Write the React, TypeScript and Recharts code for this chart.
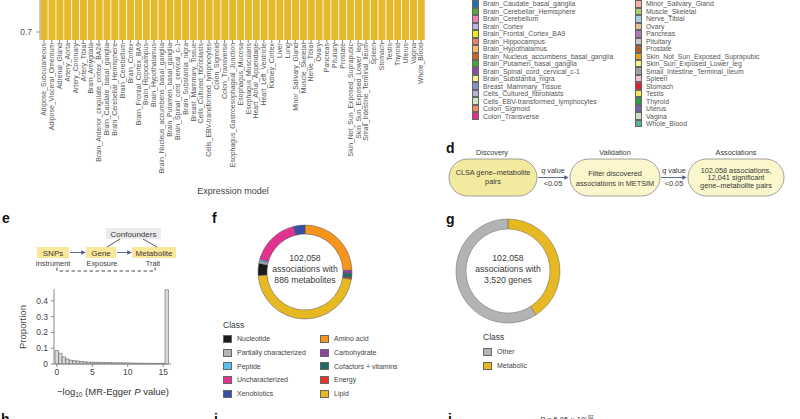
import React from "react";
import { BarChart, Bar, XAxis, YAxis, PieChart, Pie, Cell } from "recharts";

const FONT = "'Liberation Sans', Arial, sans-serif";
const INK = "#3a3a3a";

// panel c: model performance per GTEx tissue (bars run off the top of the crop)
const TISSUES = [
  "Adipose_Subcutaneous", "Adipose_Visceral_Omentum", "Adrenal_Gland", "Artery_Aorta", "Artery_Coronary",
  "Artery_Tibial", "Brain_Amygdala", "Brain_Anterior_cingulate_cortex_BA24", "Brain_Caudate_basal_ganglia",
  "Brain_Cerebellar_Hemisphere", "Brain_Cerebellum", "Brain_Cortex", "Brain_Frontal_Cortex_BA9",
  "Brain_Hippocampus", "Brain_Hypothalamus", "Brain_Nucleus_accumbens_basal_ganglia", "Brain_Putamen_basal_ganglia",
  "Brain_Spinal_cord_cervical_c-1", "Brain_Substantia_nigra", "Breast_Mammary_Tissue", "Cells_Cultured_fibroblasts",
  "Cells_EBV-transformed_lymphocytes", "Colon_Sigmoid", "Colon_Transverse", "Esophagus_Gastroesophageal_Junction",
  "Esophagus_Mucosa", "Esophagus_Muscularis", "Heart_Atrial_Appendage", "Heart_Left_Ventricle", "Kidney_Cortex",
  "Liver", "Lung", "Minor_Salivary_Gland", "Muscle_Skeletal", "Nerve_Tibial", "Ovary", "Pancreas", "Pituitary",
  "Prostate", "Skin_Not_Sun_Exposed_Suprapubic", "Skin_Sun_Exposed_Lower_leg", "Small_Intestine_Terminal_Ileum",
  "Spleen", "Stomach", "Testis", "Thyroid", "Uterus", "Vagina", "Whole_Blood",
];
const TISSUE_SCORE = [
  0.86, 0.85, 0.84, 0.85, 0.83, 0.86, 0.80, 0.81, 0.82, 0.84, 0.85, 0.82, 0.82, 0.80, 0.80, 0.82, 0.81,
  0.80, 0.79, 0.84, 0.87, 0.83, 0.84, 0.85, 0.83, 0.85, 0.85, 0.84, 0.83, 0.79, 0.83, 0.86, 0.82, 0.86,
  0.87, 0.82, 0.83, 0.82, 0.82, 0.85, 0.87, 0.81, 0.83, 0.84, 0.86, 0.87, 0.82, 0.81, 0.86,
];
const TISSUE_COLORS = [
  "#f58a3a", "#f9b56b", "#6fcf5a", "#f25a5a", "#f7a898", "#e32222", "#e9e79a", "#cfd59a",
  "#1f6fb5", "#5ba63a", "#ee82b4", "#bdb5db", "#f2e81f", "#f07f71", "#f8b86a", "#d95f1e",
  "#43a53b", "#8e4a9e", "#f9f190", "#8096c9", "#b9b0d8", "#cde7c2", "#f58d62", "#e42e8c",
  "#9c8660", "#a8865a", "#d0ac7e", "#9f4fd8", "#6b2a99", "#3fd6c2", "#b3bf6a", "#9fe04a",
  "#f7b0a5", "#a6d46a", "#a8cfe8", "#e6c291", "#b676b8", "#c8c8c8", "#b5592a", "#e8a21c",
  "#f8f08f", "#a0a0a0", "#f3bed5", "#e4212a", "#f7e653", "#2f9a45", "#6b68ae", "#c9e2c0", "#56b59b",
];
const LEGEND_SPLIT = 24;   // left legend column = first 24 tissues
const LEGEND_HIDDEN = 8;   // rows of each column that sit above the crop

// panel e: MR-Egger histogram
const HIST_BIN = [
  0, 0.5, 1, 1.5, 2, 2.5, 3, 3.5, 4, 4.5, 5, 5.5, 6, 6.5, 7, 7.5,
  8, 8.5, 9, 9.5, 10, 10.5, 11, 11.5, 12, 12.5, 13, 13.5, 14, 14.5, 15, 15.5,
];
const HIST_PROP = [
  0.086, 0.068, 0.045, 0.032, 0.024, 0.021, 0.019, 0.016, 0.014, 0.012, 0.011, 0.011, 0.010, 0.010, 0.009, 0.009,
  0.008, 0.008, 0.008, 0.007, 0.007, 0.006, 0.006, 0.005, 0.005, 0.005, 0.004, 0.004, 0.004, 0.004, 0.004, 0.47,
];

// panel f: metabolite classes (clockwise from 12 o'clock)
const MET_CLASS = [
  "Amino acid", "Carbohydrate", "Cofactors + vitamins", "Energy", "Lipid",
  "Nucleotide", "Partially characterized", "Peptide", "Uncharacterized", "Xenobiotics",
];
const MET_SHARE = [24.4, 1.0, 1.6, 0.5, 46.3, 4.2, 0.8, 0.6, 16.7, 3.9];
const MET_COLORS = [
  "#f7941d", "#8e44a0", "#206e63", "#e8322a", "#e6b822",
  "#1a1a1a", "#b3b3b3", "#5bc2eb", "#e0338f", "#3651a3",
];

// panel g: gene classes
const GENE_CLASS = ["Metabolic", "Other"];
const GENE_SHARE = [41, 59];
const GENE_COLORS = ["#e6b822", "#b3b3b3"];

const tissueData = TISSUES.map((t, i) => ({ tissue: t, score: TISSUE_SCORE[i] }));
const histData = HIST_BIN.map((b, i) => ({ bin: b, prop: HIST_PROP[i] }));
const metData = MET_CLASS.map((c, i) => ({ name: c, share: MET_SHARE[i] }));
const geneData = GENE_CLASS.map((c, i) => ({ name: c, share: GENE_SHARE[i] }));

function TissueTick({ x, y, payload }: any) {
  return (
    <text
      x={x} y={y} dy="0.35em" transform={`rotate(-90 ${x} ${y})`}
      textAnchor="end" fontSize={6.9} fill="#555" fontFamily={FONT}
    >
      {payload.value}
    </text>
  );
}

function Swatch({ color, size = 9 }: { color: string; size?: number }) {
  return (
    <span style={{
      display: "inline-block", width: size, height: size - 1, background: color,
      border: "0.6px solid #666", boxSizing: "border-box", marginRight: 5, flexShrink: 0,
    }} />
  );
}

const abs = (left: number, top: number, extra: React.CSSProperties = {}): React.CSSProperties => ({
  position: "absolute", left, top, ...extra,
});

const ROW = 7.47;

export default function App() {
  const cols = [
    { x: 472, start: LEGEND_HIDDEN, items: TISSUES.slice(LEGEND_HIDDEN, LEGEND_SPLIT) },
    { x: 635, start: LEGEND_SPLIT + LEGEND_HIDDEN, items: TISSUES.slice(LEGEND_SPLIT + LEGEND_HIDDEN) },
  ];

  return (
    <div style={{
      position: "fixed", left: 0, top: 0, width: 800, height: 419, overflow: "hidden",
      background: "#fff", fontFamily: FONT, color: INK,
    }}>
      {/* static diagrams: panel d flow and panel e causal sketch */}
      <svg width={800} height={419} style={abs(0, 0)} fontFamily={FONT}>
        <defs>
          <marker id="arr" viewBox="0 0 6 6" refX="5" refY="3" markerWidth="5" markerHeight="5" orient="auto">
            <path d="M0,0 L6,3 L0,6 z" fill="#4a5e80" />
          </marker>
        </defs>

        <g fontWeight="bold" fontSize={14} fill="#111">
          <text x={446} y={152.5}>d</text>
          <text x={2} y={223}>e</text>
          <text x={212} y={223}>f</text>
          <text x={446} y={224}>g</text>
          <text x={1} y={424}>h</text>
          <text x={214} y={424}>i</text>
          <text x={448} y={424}>j</text>
        </g>

        {/* d */}
        <g fontSize={7.3} fill={INK} textAnchor="middle">
          <text x={492} y={154.5}>Discovery</text>
          <text x={615} y={154.5}>Validation</text>
          <text x={736} y={154.5}>Associations</text>
        </g>
        <rect x={449} y={159} width={88} height={37} rx={18.5} fill="#f2eb9f" stroke="#8a8a8a" strokeWidth={0.8} />
        <rect x={570} y={159} width={90} height={37} rx={18.5} fill="#fbf6cb" stroke="#8a8a8a" strokeWidth={0.8} />
        <rect x={688} y={159} width={96} height={37} rx={18.5} fill="#fbf6cb" stroke="#8a8a8a" strokeWidth={0.8} />
        <g fontSize={7.3} fill={INK} textAnchor="middle">
          <text x={493} y={174.5}>CLSA gene–metabolite</text>
          <text x={493} y={183.5}>pairs</text>
          <text x={615} y={176}>Filter discovered</text>
          <text x={615} y={185.5}>associations in METSIM</text>
          <text x={736} y={172.5}>102,058 associations,</text>
          <text x={736} y={180}>12,041 significant</text>
          <text x={736} y={187.5}>gene–metabolite pairs</text>
          <text x={553} y={173}><tspan fontStyle="italic">q</tspan> value</text>
          <text x={553} y={186}>&lt;0.05</text>
          <text x={674} y={173}><tspan fontStyle="italic">q</tspan> value</text>
          <text x={674} y={186}>&lt;0.05</text>
        </g>
        <line x1={538} y1={177.5} x2={568} y2={177.5} stroke="#4a5e80" strokeWidth={0.9} markerEnd="url(#arr)" />
        <line x1={661} y1={177.5} x2={686} y2={177.5} stroke="#4a5e80" strokeWidth={0.9} markerEnd="url(#arr)" />

        {/* e */}
        <rect x={106} y={228} width={55} height={11} fill="#ebebeb" />
        <rect x={37} y={247} width={32} height={11} fill="#fbe79a" />
        <rect x={86} y={247} width={30} height={11} fill="#fbe79a" />
        <rect x={132} y={247} width={44} height={11} fill="#fbe79a" />
        <g fontSize={8} fill={INK} textAnchor="middle">
          <text x={133.5} y={236.5}>Confounders</text>
          <text x={53} y={255.5}>SNPs</text>
          <text x={101} y={255.5}>Gene</text>
          <text x={154} y={255.5}>Metabolite</text>
        </g>
        <g fontSize={7.3} fill={INK} textAnchor="middle">
          <text x={53} y={265.5}>Instrument</text>
          <text x={102} y={265.5}>Exposure</text>
          <text x={153} y={265.5}>Trait</text>
        </g>
        <line x1={70} y1={252.5} x2={85} y2={252.5} stroke="#4a5e80" strokeWidth={0.9} markerEnd="url(#arr)" />
        <line x1={117} y1={252.5} x2={131} y2={252.5} stroke="#4a5e80" strokeWidth={0.9} markerEnd="url(#arr)" />
        <line x1={120} y1={239} x2={107} y2={247} stroke="#333" strokeWidth={0.8} />
        <line x1={143} y1={239} x2={157} y2={247} stroke="#333" strokeWidth={0.8} />
        <path d="M57,267.5 V271 H155 V267.5" fill="none" stroke="#333" strokeWidth={0.9} strokeDasharray="3.5 2.5" />

        {/* cropped text along the bottom edge, as in the source figure */}
        <text x={540} y={421.5} fontSize={7.5} fill={INK}>
          <tspan fontStyle="italic">P</tspan> = 5.05 × 10<tspan dy={-3} fontSize={5}>−92</tspan>
        </text>
      </svg>

      {/* c: bar chart, top cropped */}
      <div style={abs(0, -60)}>
        <BarChart width={430} height={260} data={tissueData} margin={{ top: 4, right: 5, left: 0, bottom: 0 }} barCategoryGap="8%">
          <XAxis
            dataKey="tissue" interval={0} height={160} axisLine={false}
            tickLine={{ stroke: "#888" }} tickSize={3} tickMargin={0} tick={<TissueTick />}
          />
          <YAxis
            width={40} domain={[0.68, 0.92]} ticks={[0.7]} allowDataOverflow
            tickFormatter={(v: number) => v.toFixed(1)}
            axisLine={{ stroke: "#999" }} tickLine={{ stroke: "#999" }} tickSize={4} tickMargin={4}
            tick={{ fontSize: 8.5, fill: "#555", fontFamily: FONT }}
          />
          <Bar dataKey="score" fill="#e5b929" isAnimationActive={false} />
        </BarChart>
      </div>
      <div style={abs(183, 186, { width: 100, textAlign: "center", fontSize: 9, color: "#444" })}>Expression model</div>

      {/* tissue legend (two columns, top rows cropped) */}
      {cols.map((col) => (
        <div key={col.x} style={abs(col.x, 4 - ROW / 2)}>
          {col.items.map((t, i) => (
            <div key={t} style={{ display: "flex", alignItems: "center", height: ROW, fontSize: 6.9, color: "#555", whiteSpace: "nowrap" }}>
              <span style={{
                width: 6.5, height: ROW, background: TISSUE_COLORS[col.start + i],
                border: "0.5px solid #666", boxSizing: "border-box", marginRight: 4.5,
              }} />
              {t}
            </div>
          ))}
        </div>
      ))}

      {/* e: histogram */}
      <div style={abs(0, 280)}>
        <BarChart width={176} height={104} data={histData} margin={{ top: 9, right: 5, left: 0, bottom: 0 }}>
          <XAxis
            type="number" dataKey="bin" domain={[-0.4, 16.1]} ticks={[0, 5, 10, 15]} height={20}
            axisLine={{ stroke: "#888" }} tickLine={{ stroke: "#888" }} tickSize={3} tickMargin={2}
            tick={{ fontSize: 8.5, fill: "#444", fontFamily: FONT }}
          />
          <YAxis
            width={54} domain={[0, 0.475]} ticks={[0, 0.1, 0.2, 0.3, 0.4]}
            axisLine={{ stroke: "#888" }} tickLine={{ stroke: "#888" }} tickSize={3} tickMargin={3}
            tick={{ fontSize: 8.5, fill: "#444", fontFamily: FONT }}
          />
          <Bar dataKey="prop" barSize={3.5} fill="#d9d9d9" stroke="#444" strokeWidth={0.5} isAnimationActive={false} />
        </BarChart>
      </div>
      <div style={abs(22, 327, { transform: "translate(-50%,-50%) rotate(-90deg)", fontSize: 9.5, color: "#444", whiteSpace: "nowrap" })}>Proportion</div>
      <div style={abs(113, 392, { transform: "translate(-50%,-50%)", fontSize: 9.5, color: "#333", whiteSpace: "nowrap" })}>
        −log<sub style={{ fontSize: 6.5 }}>10</sub> (MR-Egger <i>P</i> value)
      </div>

      {/* f: metabolite class donut */}
      <div style={abs(250, 217)}>
        <PieChart width={110} height={110} margin={{ top: 0, right: 0, bottom: 0, left: 0 }}>
          <Pie
            data={metData} dataKey="share" nameKey="name" cx={55} cy={55} innerRadius={38} outerRadius={47}
            startAngle={90} endAngle={-270} stroke="#555" strokeWidth={0.5} isAnimationActive={false}
          >
            {metData.map((d, i) => <Cell key={d.name} fill={MET_COLORS[i]} />)}
          </Pie>
        </PieChart>
      </div>
      <div style={abs(305, 269, { transform: "translate(-50%,-50%)", textAlign: "center", fontSize: 8.7, lineHeight: "10.8px", color: INK, whiteSpace: "nowrap" })}>
        102,058<br />associations with<br />886 metabolites
      </div>
      <div style={abs(223, 320, { fontSize: 8.5, color: INK })}>Class</div>
      {[MET_CLASS.slice(5), MET_CLASS.slice(0, 5)].map((col, ci) => (
        <div key={ci} style={abs(ci === 0 ? 223 : 320, 332)}>
          {col.map((c) => (
            <div key={c} style={{ display: "flex", alignItems: "center", height: 13.7, fontSize: 7, color: "#444", whiteSpace: "nowrap" }}>
              <Swatch color={MET_COLORS[MET_CLASS.indexOf(c)]} />
              {c}
            </div>
          ))}
        </div>
      ))}

      {/* g: gene class donut */}
      <div style={abs(453, 216)}>
        <PieChart width={110} height={110} margin={{ top: 0, right: 0, bottom: 0, left: 0 }}>
          <Pie
            data={geneData} dataKey="share" nameKey="name" cx={55} cy={55} innerRadius={42} outerRadius={52}
            startAngle={90} endAngle={-270} stroke="#666" strokeWidth={0.5} isAnimationActive={false}
          >
            {geneData.map((d, i) => <Cell key={d.name} fill={GENE_COLORS[i]} />)}
          </Pie>
        </PieChart>
      </div>
      <div style={abs(508, 269, { transform: "translate(-50%,-50%)", textAlign: "center", fontSize: 8.7, lineHeight: "10.8px", color: INK, whiteSpace: "nowrap" })}>
        102,058<br />associations with<br />3,520 genes
      </div>
      <div style={abs(483, 332, { fontSize: 8.5, color: INK })}>Class</div>
      <div style={abs(483, 345)}>
        {["Other", "Metabolic"].map((c) => (
          <div key={c} style={{ display: "flex", alignItems: "center", height: 13.7, fontSize: 7, color: "#444" }}>
            <Swatch color={GENE_COLORS[GENE_CLASS.indexOf(c)]} />
            {c}
          </div>
        ))}
      </div>
    </div>
  );
}
